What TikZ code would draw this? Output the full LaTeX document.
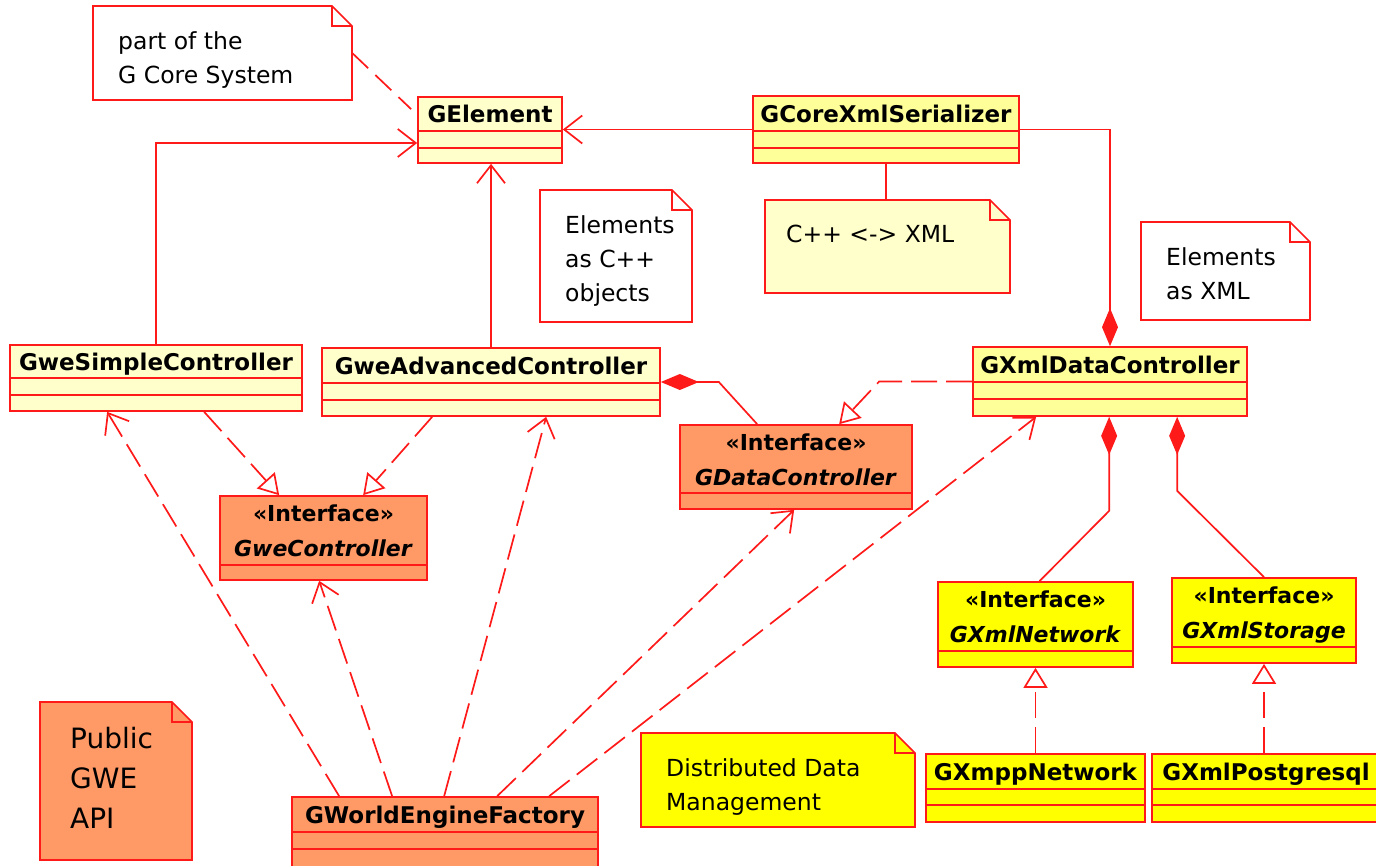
\documentclass[tikz,border=0pt]{standalone}
\usepackage{fontspec}
\setmainfont{DejaVu Sans}
\usetikzlibrary{arrows.meta,calc,fit}

\definecolor{umlred}{HTML}{FF1A1A}
\definecolor{cream}{HTML}{FFFFCC}
\definecolor{paleyellow}{HTML}{FFFF99}
\definecolor{brightyellow}{HTML}{FFFF00}
\definecolor{apiorange}{HTML}{FF9966}

\tikzset{
  umlline/.style={draw=umlred, line width=1.7pt},
  classbox/.style={umlline, rectangle, inner sep=0pt},
  classname/.style={font=\bfseries\fontsize{23}{27}\selectfont, inner sep=0pt, text height=17pt, text depth=0pt},
  ifacename/.style={font=\bfseries\fontsize{22}{35}\selectfont, inner sep=0pt, align=center, anchor=north},
  notetext/.style={font=\fontsize{23.5}{34}\selectfont, inner sep=0pt, align=left, anchor=north west},
  assoc/.style={umlline, -{Straight Barb[length=18pt, width=28pt]}},
  depend/.style={umlline, dash pattern=on 26pt off 9pt, -{Straight Barb[length=18pt, width=28pt]}},
  realize/.style={umlline, dash pattern=on 26pt off 9pt, -{Triangle[open, length=20pt, width=24pt, fill=white]}},
  compose/.style={umlline, {Diamond[length=38pt, width=16pt]}-},
  notelink/.style={umlline, dash pattern=on 22pt off 10pt},
}

% class box: name, fill, left, top, right, bottom, divider 1, divider 2, text
\newcommand{\umlclass}[9]{%
  \node[classbox, fill=#2, fit={(#3,#4) (#5,#6)}] (#1) {};
  \draw[umlline] (#3,#7) -- (#5,#7) (#3,#8) -- (#5,#8);
  \node[classname] (#1-name) at ({(#3+#5)/2},{(#4+#7)/2}) {#9};
}
% interface box: name, fill, left, top, right, bottom, divider, text
\newcommand{\umliface}[8]{%
  \node[classbox, fill=#2, fit={(#3,#4) (#5,#6)}] (#1) {};
  \draw[umlline] (#3,#7) -- (#5,#7);
  \node[ifacename] (#1-name) at ({(#3+#5)/2},{#4+9}) {«Interface»\\\textit{#8}};
}
% note with folded corner: name, fill, left, top, right, bottom, extra options, text
\newcommand{\umlnote}[8]{%
  \filldraw[umlline, fill=#2] (#3,#4) -- ({#5-20},#4) -- (#5,{#4+20}) -- (#5,#6) -- (#3,#6) -- cycle;
  \draw[umlline] ({#5-20},#4) -- ({#5-20},{#4+20}) -- (#5,{#4+20});
  \node[fit={(#3,#4) (#5,#6)}, inner sep=0pt] (#1) {};
  \node[notetext, #7] (#1-text) at ({#3+25},{#4+25}) {#8};
}

\begin{document}
\begin{tikzpicture}[x=1pt, y=-1pt]
  \fill[white] (0,0) rectangle (1376,865);
  \useasboundingbox (0,0) rectangle (1376,865);

  % Notes
  \umlnote{partnote}{white}{93}{6}{352}{100}{}{part of the\\G Core System}
  \umlnote{cppnote}{white}{540}{190}{692}{322}{}{Elements\\as C++\\objects}
  \umlnote{convnote}{cream}{765}{200}{1010}{293}{xshift=-4pt}{C++ <-> XML}
  \umlnote{xmlnote}{white}{1141}{222}{1310}{320}{}{Elements\\as XML}
  \umlnote{distnote}{brightyellow}{641}{733}{915}{827}{}{Distributed Data\\Management}
  \umlnote{apinote}{apiorange}{40}{702}{192}{860}{font=\fontsize{28}{40}\selectfont, xshift=5pt}{Public\\GWE\\API}

  % Classes
  \umlclass{gelement}{cream}{418}{97}{562}{163}{131}{148}{GElement}
  \umlclass{serializer}{paleyellow}{753}{96}{1019}{163}{131}{148}{GCoreXmlSerializer}
  \umlclass{simplectrl}{cream}{10}{345}{302}{411}{378}{395}{GweSimpleController}
  \umlclass{advctrl}{cream}{322}{348}{660}{416}{383}{400}{GweAdvancedController}
  \umlclass{xmldatactrl}{paleyellow}{973}{347}{1247}{416}{382}{399}{GXmlDataController}
  \umlclass{factory}{apiorange}{292}{797}{598}{870}{832}{849}{GWorldEngineFactory}
  \umlclass{xmppnet}{brightyellow}{926}{754}{1145}{822}{789}{805}{GXmppNetwork}
  \umlclass{postgres}{brightyellow}{1152}{754}{1380}{822}{789}{805}{GXmlPostgresql}

  % Interfaces
  \umliface{gwectrl}{apiorange}{220}{496}{427}{580}{565}{GweController}
  \umliface{datactrl}{apiorange}{680}{425}{912}{509}{493}{GDataController}
  \umliface{xmlnet}{brightyellow}{938}{582}{1133}{667}{651}{GXmlNetwork}
  \umliface{xmlstore}{brightyellow}{1172}{578}{1356}{663}{647}{GXmlStorage}

  % Note links
  \draw[notelink] (partnote.east) -- ($(gelement.north west)+(-6,13)$);
  \draw[umlline] (serializer.south) -- (serializer.south |- convnote.north);

  % Associations to GElement
  \draw[assoc] (simplectrl.north) |- ($(gelement.west)+(0,13)$);
  \draw[assoc] (advctrl.north) -- (advctrl.north |- gelement.south);
  \draw[assoc] (serializer.west) -- (serializer.west -| gelement.east);

  % Compositions
  \draw[compose] (xmldatactrl.north) |- (serializer.east);
  \draw[compose] (advctrl.east) -- ++(58,0) -- ($(datactrl.north west)+(78,0)$);
  \draw[compose] ($(xmldatactrl.south west)+(137,0)$) -- ++(0,94) -- ($(xmlnet.north)+(4,0)$);
  \draw[compose] ($(xmldatactrl.south west)+(205,0)$) -- ++(0,74) -- (xmlstore.north);

  % Realizations
  \draw[realize] (xmldatactrl.west) -- ++(-93,0) -- ($(datactrl.north west)+(160,0)$);
  \draw[realize] ($(simplectrl.south west)+(195,0)$) -- ($(gwectrl.north west)+(60,0)$);
  \draw[realize] ($(advctrl.south west)+(111,0)$) -- ($(gwectrl.north west)+(144,0)$);
  \draw[realize] (xmppnet.north -| xmlnet.south) -- (xmlnet.south);
  \draw[realize] (postgres.north -| xmlstore.south) -- (xmlstore.south);

  % Dependencies of the factory
  \foreach \off/\target/\shift in {48/simplectrl/98, 101/gwectrl/100, 153/advctrl/225, 206/datactrl/115, 258/xmldatactrl/64}
    \draw[depend] ($(factory.north west)+(\off,0)$) -- ($(\target.south west)+(\shift,0)$);
\end{tikzpicture}
\end{document}
